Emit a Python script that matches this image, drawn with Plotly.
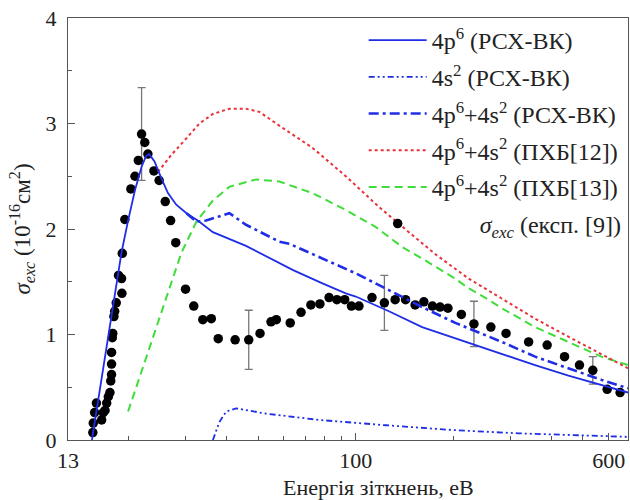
import plotly.graph_objects as go

# ---------------- data ----------------
# 4p6 (РСХ-ВК) - blue solid
e_4p6 = [15.4, 19.0, 19.9, 20.9, 21.9, 22.6, 23.1, 24.0, 25.2, 26.4, 28.0, 30.1, 32.6, 36.3,
         45.9, 55.4, 64.1, 78.9, 93.1, 99.9, 126.4, 159.9, 233.0, 281.0, 356.0, 451.0, 544.0, 688.0]
s_4p6 = [0.0, 1.78, 2.08, 2.37, 2.59, 2.69, 2.71, 2.64, 2.48, 2.34, 2.23, 2.15, 2.08, 1.97,
         1.84, 1.71, 1.61, 1.485, 1.39, 1.36, 1.22, 1.07, 0.90, 0.81, 0.71, 0.61, 0.54, 0.45]

# 4s2 (РСХ-ВК) - blue dash-dot-dot
e_4s2 = [36.3, 38.0, 39.9, 42.8, 52.9, 66.9, 77.1, 123.5, 197.6, 316.5, 688.0]
s_4s2 = [0.0, 0.17, 0.27, 0.30, 0.25, 0.21, 0.19, 0.14, 0.095, 0.063, 0.03]

# 4p6+4s2 (РСХ-ВК) - blue dash-dot
e_sum = [30.1, 32.3, 34.6, 36.3, 40.8, 45.9, 58.1, 62.4, 73.5, 78.9, 86.7, 99.9, 126.4,
         159.9, 202.4, 256.0, 281.3, 356.2, 450.7, 570.0, 688.0]
s_sum = [2.15, 2.07, 2.08, 2.10, 2.15, 2.04, 1.88, 1.86, 1.76, 1.72, 1.66, 1.58, 1.42,
         1.26, 1.11, 0.98, 0.93, 0.79, 0.68, 0.57, 0.49]

# 4p6+4s2 (ПХБ[12]) - red dotted
e_p12 = [24.6, 27.0, 30.1, 33.0, 36.3, 40.8, 45.9, 50.5, 58.1, 73.5, 93.1, 117.7, 145.6,
         175.8, 222.4, 281.3, 356.2, 450.7, 570.0, 688.0]
s_p12 = [2.54, 2.70, 2.86, 3.00, 3.09, 3.14, 3.14, 3.11, 2.98, 2.77, 2.50, 2.21, 1.97,
         1.76, 1.53, 1.34, 1.15, 0.98, 0.81, 0.68]

# 4p6+4s2 (ПХБ[13]) - green dashed
e_p13 = [19.9, 29.0, 32.3, 36.3, 40.8, 49.3, 58.1, 73.5, 93.1, 115.0, 138.8, 160.0, 202.0,
         222.0, 256.0, 281.0, 356.0, 451.0, 570.0, 688.0]
s_p13 = [0.27, 1.77, 2.07, 2.27, 2.40, 2.47, 2.45, 2.34, 2.18, 2.02, 1.83, 1.72, 1.53,
         1.44, 1.33, 1.25, 1.07, 0.93, 0.79, 0.71]

# experiment [9]
e_exp = [15.5, 15.55, 15.7, 15.9, 16.5, 16.7, 16.9, 17.1, 17.3, 17.5, 17.6, 17.7, 17.7, 17.7,
         17.8, 17.85, 18.0, 18.1, 18.3, 18.6, 19.0, 19.05, 19.1, 19.45, 20.3, 20.9, 21.4, 21.9,
         22.4, 22.9, 23.9, 24.8, 25.9, 26.9, 27.9, 29.9, 31.7, 33.8, 35.9, 37.7, 42.5, 46.8,
         50.7, 54.8, 56.9, 62.8, 67.8, 72.7, 77.5, 82.7, 87.4, 92.4, 96.9, 102.2, 112.1, 122.4,
         132.1, 142.2, 152.2, 161.9, 172.1, 181.6, 192.0, 211.2, 230.9, 260.3, 289.9, 340.2,
         387.9, 438.8, 487.8, 536.1, 593.6, 650.6]
s_exp = [0.07, 0.16, 0.26, 0.35, 0.19, 0.26, 0.28, 0.35, 0.41, 0.45, 0.56, 0.62, 0.72, 0.83,
         0.97, 1.01, 1.17, 1.22, 1.30, 1.56, 1.53, 1.39, 1.77, 2.09, 2.38, 2.50, 2.65, 2.90,
         2.82, 2.71, 2.55, 2.46, 2.26, 2.08, 1.87, 1.43, 1.27, 1.14, 1.15, 0.96, 0.95, 0.95,
         1.01, 1.12, 1.14, 1.11, 1.21, 1.28, 1.29, 1.35, 1.33, 1.33, 1.27, 1.27, 1.35, 1.30,
         1.33, 1.33, 1.28, 1.31, 1.27, 1.26, 1.25, 1.19, 1.10, 1.07, 1.01, 0.93,
         0.90, 0.79, 0.71, 0.66, 0.48, 0.45]

# error bars on selected experimental points
e_err = [21.9, 46.8, 122.4, 230.9, 536.1]
s_err = [2.90, 0.95, 1.30, 1.10, 0.66]
d_err = [0.44, 0.28, 0.26, 0.215, 0.13]

x_ticks = [13, 100, 600]
x_minor = [20, 30, 40, 50, 60, 70, 80, 90, 200, 300, 400, 500]

# ---------------- figure ----------------
FONT = "Liberation Serif"
BLUE = "#1f2ee6"
RED = "#e8333a"
GREEN = "#3fdc3a"
TXT = "#222222"

fig = go.Figure()

fig.add_trace(go.Scatter(
    x=e_err, y=s_err, mode="markers", showlegend=False, hoverinfo="skip",
    marker=dict(size=1, color="rgba(0,0,0,0)"),
    error_y=dict(type="data", array=d_err, color="#777777", thickness=1.3, width=4)))

fig.add_trace(go.Scatter(
    x=e_exp, y=s_exp, mode="markers",
    name="\u00a0" * 8 + "<i>σ</i><sub><i>exc</i></sub> (експ. [9])",
    marker=dict(size=9.5, color="black"), legendrank=6, legendgroup="g6"))

fig.add_trace(go.Scatter(
    x=e_p13, y=s_p13, mode="lines", name="4p<sup>6</sup>+4s<sup>2</sup> (ПХБ[13])",
    line=dict(color=GREEN, width=2, dash="8px,5px"), legendrank=5, legendgroup="g5"))

fig.add_trace(go.Scatter(
    x=e_p12, y=s_p12, mode="lines", name="4p<sup>6</sup>+4s<sup>2</sup> (ПХБ[12])",
    line=dict(color=RED, width=2, dash="3px,3px"), legendrank=4, legendgroup="g4"))

fig.add_trace(go.Scatter(
    x=e_4s2, y=s_4s2, mode="lines", name="4s<sup>2</sup> (РСХ-ВК)",
    line=dict(color=BLUE, width=1.8, dash="6px,3px,2px,3px,2px,3px"), legendrank=2, legendgroup="g2"))

fig.add_trace(go.Scatter(
    x=e_sum, y=s_sum, mode="lines", name="4p<sup>6</sup>+4s<sup>2</sup> (РСХ-ВК)",
    line=dict(color=BLUE, width=2.6, dash="10px,4px,3px,4px"), legendrank=3, legendgroup="g3"))

fig.add_trace(go.Scatter(
    x=e_4p6, y=s_4p6, mode="lines", name="4p<sup>6</sup> (РСХ-ВК)",
    line=dict(color=BLUE, width=1.8), legendrank=1, legendgroup="g1"))

axis_common = dict(
    showline=True, linecolor="#555555", linewidth=1.2, mirror=True,
    ticks="inside", tickcolor="#555555", tickwidth=1.2, ticklen=7,
    showgrid=False, zeroline=False, automargin=False,
    tickfont=dict(family=FONT, size=22, color=TXT),
)

fig.update_layout(
    width=630, height=500,
    margin=dict(l=68, r=2, t=18, b=60),
    paper_bgcolor="white", plot_bgcolor="white",
    font=dict(family=FONT, size=22, color=TXT),
    xaxis=dict(
        type="log", range=[1.11394, 2.8376],
        tickmode="array", tickvals=x_ticks, ticktext=[str(v) for v in x_ticks],
        minor=dict(tickmode="array", tickvals=x_minor, ticks="inside", ticklen=4,
                   tickcolor="#555555", tickwidth=1.2, showgrid=False),
        ticklabelstandoff=0,
        **axis_common),
    yaxis=dict(
        range=[0, 4], tickmode="array", tickvals=[0, 1, 2, 3, 4],
        minor=dict(tickmode="array", tickvals=[0.5, 1.5, 2.5, 3.5], ticks="inside", ticklen=4,
                   tickcolor="#555555", tickwidth=1.2, showgrid=False),
        ticklabelstandoff=6,
        title=dict(text="<i>σ</i><sub><i>exc</i></sub> (10<sup>-16</sup>см<sup>2</sup>)",
                   font=dict(family=FONT, size=23, color=TXT), standoff=8),
        **axis_common),
    legend=dict(
        x=0.528, xanchor="left", y=1.0, yanchor="top",
        bgcolor="rgba(0,0,0,0)", borderwidth=0,
        font=dict(family=FONT, size=24, color=TXT),
        itemwidth=58, tracegroupgap=2.5, traceorder="grouped",
    ),
    annotations=[dict(
        text="Енергія зіткнень, еВ", xref="paper", yref="paper",
        x=0.555, y=0, xanchor="center", yanchor="middle", yshift=-47,
        showarrow=False, font=dict(family=FONT, size=22, color=TXT))],
)

fig.write_html("out.html", config={"displayModeBar": False},
               post_script="document.body.style.margin='0';")
